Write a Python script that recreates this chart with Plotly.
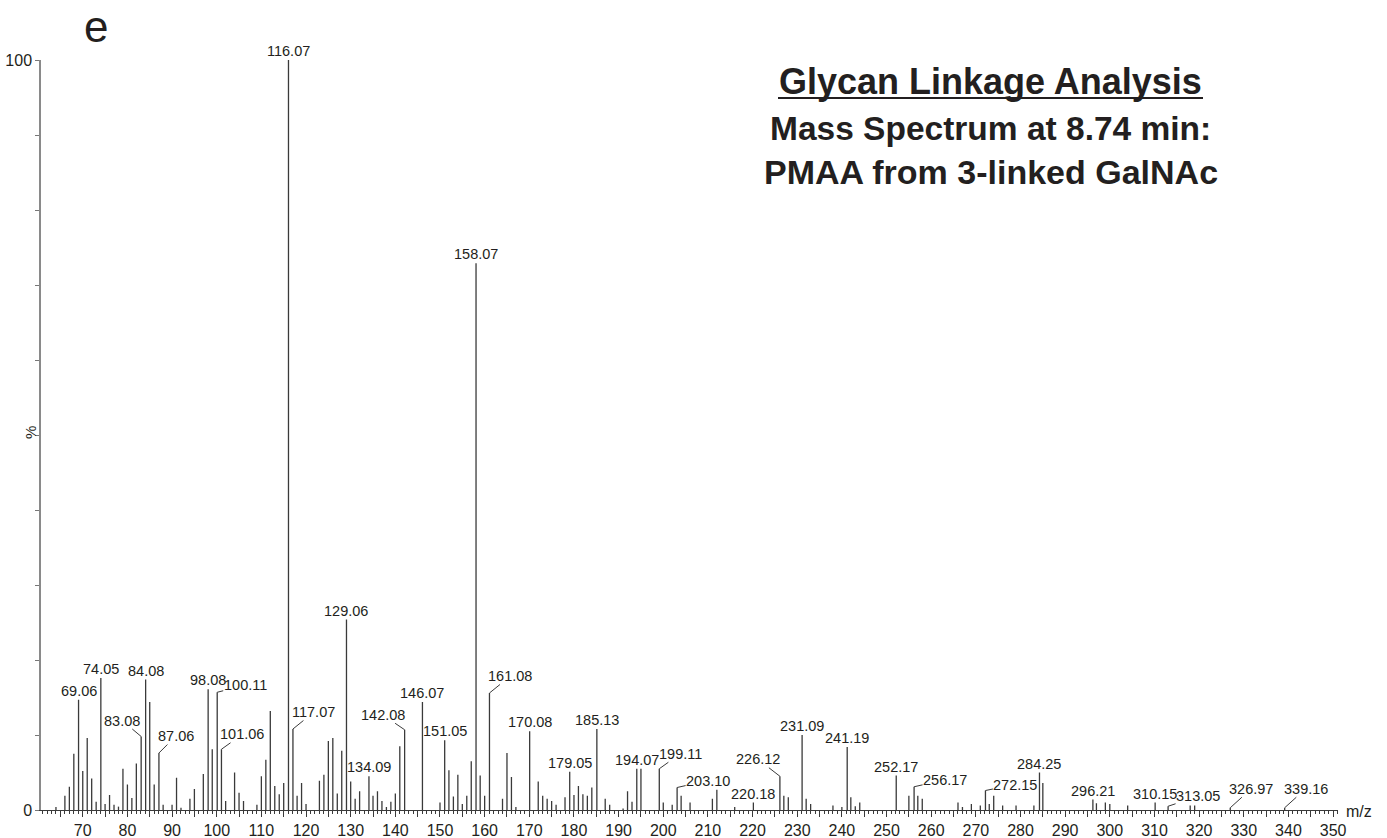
import plotly.graph_objects as go

# Ion m/z values and relative abundances (%)
mz = [64, 66, 67, 68, 69.06, 70, 71, 72, 73, 74.05, 75, 76, 77, 78, 79, 80, 81, 82,
      83.08, 84.08, 85, 86, 87.06, 88, 90, 91, 92, 94, 95, 97, 98.08, 99, 100.11,
      101.06, 102, 104, 105, 106, 109, 110, 111, 112, 113, 114, 115, 116.07, 117.07,
      118, 119, 120, 123, 124, 125, 126, 127, 128, 129.06, 130, 131, 132, 134.09,
      135, 136, 137, 138, 139, 140, 141, 142.08, 146.07, 150, 151.05, 152, 153, 154,
      155, 156, 157, 158.07, 159, 160, 161.08, 164, 165, 166, 167, 170.08, 172, 173,
      174, 175, 176, 178, 179.05, 180, 181, 182, 183, 184, 185.13, 187, 188, 191,
      192, 193, 194.07, 195, 199.11, 200, 202, 203.10, 204, 206, 211, 212, 216,
      220.18, 226.12, 227, 228, 231.09, 232, 233, 238, 240, 241.19, 242, 243, 244,
      252.17, 255, 256.17, 257, 258, 266, 267, 269, 271, 272.15, 273, 274, 276, 279,
      283, 284.25, 285, 296.21, 297, 299, 300, 304, 310.15, 313.05, 318, 319,
      326.97, 339.16]
abundance = [0.4, 1.9, 3.1, 7.5, 14.7, 5.2, 9.6, 4.2, 1.1, 17.6, 0.8, 2.0, 0.7, 0.45,
             5.5, 3.4, 1.6, 6.2, 9.8, 17.4, 14.4, 3.4, 7.6, 0.7, 0.7, 4.3, 0.3, 1.5,
             2.8, 4.8, 16.1, 8.1, 15.7, 8.1, 1.2, 5.0, 2.3, 1.2, 0.7, 4.5, 6.7, 13.2,
             3.2, 2.1, 3.6, 100.0, 10.8, 1.9, 3.6, 0.8, 3.9, 4.7, 9.2, 9.6, 2.2, 7.9,
             25.4, 3.8, 1.5, 2.5, 4.5, 1.9, 2.5, 1.2, 0.4, 1.1, 2.2, 8.5, 10.7, 14.4,
             1.0, 9.3, 5.3, 1.8, 4.7, 0.8, 1.9, 6.5, 72.9, 4.6, 1.9, 15.6, 1.5, 7.6,
             4.4, 0.4, 10.5, 3.8, 1.9, 1.5, 1.2, 0.7, 1.7, 5.1, 2.0, 3.2, 2.1, 1.9,
             3.0, 10.8, 1.5, 0.7, 0.2, 2.5, 1.1, 5.5, 5.5, 5.5, 1.0, 0.7, 3.0, 1.9,
             1.0, 1.5, 2.7, 0.4, 1.0, 4.5, 1.9, 1.7, 10.0, 1.5, 0.8, 0.6, 0.4, 8.4,
             1.7, 0.5, 1.0, 4.6, 1.9, 3.1, 1.9, 1.5, 1.0, 0.4, 0.8, 0.6, 2.6, 0.8,
             1.9, 0.6, 0.6, 0.6, 5.0, 3.6, 1.4, 0.9, 1.0, 0.8, 0.6, 1.0, 0.5, 0.6,
             0.6, 0.3, 0.3]

# Peaks annotated with their m/z
labelled_mz = [69.06, 74.05, 83.08, 84.08, 87.06, 98.08, 100.11, 101.06, 116.07,
               117.07, 129.06, 134.09, 142.08, 146.07, 151.05, 158.07, 161.08,
               170.08, 179.05, 185.13, 194.07, 199.11, 203.10, 220.18, 226.12,
               231.09, 241.19, 252.17, 256.17, 272.15, 284.25, 296.21, 310.15,
               313.05, 326.97, 339.16]

# Axis tick positions
x_major_ticks = list(range(65, 351, 5))
y_ticks = list(range(0, 101, 10))

title_lines = ["Glycan Linkage Analysis", "Mass Spectrum at 8.74 min:",
               "PMAA from 3-linked GalNAc"]

# ---- layout geometry (pixels) ----
W, H = 1387, 838
L, R, T, B = 41, 49, 60, 28
FONT = "Arial, Liberation Sans, sans-serif"
INK = "#231f20"


def paper_x(px):
    return (px - L) / (W - L - R)


def paper_y(py):
    return (H - B - py) / (H - T - B)


# label offsets (pixels) for annotations that use a leader line
leader_offset = {
    83.08: (-19, -16), 87.06: (17, -17), 100.11: (28, -7), 101.06: (21, -15),
    117.07: (21, -17), 142.08: (-22, -15), 161.08: (21, -17), 199.11: (21, -15),
    203.10: (31, -7), 226.12: (-22, -17), 256.17: (31, -7), 272.15: (30, -6),
    313.05: (30, -10), 326.97: (21, -19), 339.16: (21, -19),
}

# stick spectrum
xs, ys = [], []
for m, a in zip(mz, abundance):
    xs += [m, m, None]
    ys += [0, a, None]

fig = go.Figure()
fig.add_trace(go.Scatter(
    x=xs, y=ys, mode="lines",
    line=dict(color="#3a3a3a", width=1.3),
    hoverinfo="skip", showlegend=False, cliponaxis=False,
))

peak_height = dict(zip(mz, abundance))
label_font = dict(family=FONT, size=14.5, color=INK)
annotations = []
for m in labelled_mz:
    h = peak_height[m]
    text = f"{m:.2f}"
    if m in leader_offset:
        ax, ay = leader_offset[m]
        annotations.append(dict(
            x=m, y=h, xref="x", yref="y", text=text, showarrow=True,
            arrowhead=0, arrowwidth=1, arrowcolor="#3a3a3a", standoff=0,
            ax=ax, ay=ay, font=label_font, borderpad=0,
        ))
    else:
        annotations.append(dict(
            x=m, y=h, xref="x", yref="y", text=text, showarrow=False,
            yanchor="bottom", xanchor="center", yshift=0,
            font=label_font, borderpad=0,
        ))

# panel letter
annotations.append(dict(
    x=paper_x(96), y=paper_y(0.5), xref="paper", yref="paper", text="e",
    showarrow=False, xanchor="center", yanchor="top", borderpad=0,
    font=dict(family=FONT, size=44, color=INK),
))

# heading
heading_y = [81, 128, 172]
heading_size = [36, 33.5, 34]
for line, yy, fs in zip(title_lines, heading_y, heading_size):
    annotations.append(dict(
        x=paper_x(991), y=paper_y(yy), xref="paper", yref="paper",
        text=f"<b>{line}</b>", showarrow=False, xanchor="center",
        yanchor="middle", font=dict(family=FONT, size=fs, color=INK),
    ))

# axis captions
annotations.append(dict(
    x=paper_x(31), y=paper_y(433), xref="paper", yref="paper", text="%",
    showarrow=False, textangle=-90, xanchor="center", yanchor="middle",
    font=dict(family=FONT, size=15, color=INK),
))
annotations.append(dict(
    x=paper_x(1344), y=paper_y(811), xref="paper", yref="paper", text="m/z",
    showarrow=False, xanchor="left", yanchor="middle",
    font=dict(family=FONT, size=16, color=INK),
))

shapes = [dict(
    type="line", xref="paper", yref="paper",
    x0=paper_x(778), x1=paper_x(1203), y0=paper_y(98), y1=paper_y(98),
    line=dict(color=INK, width=2),
)]

fig.update_layout(
    width=W, height=H, autosize=False,
    margin=dict(l=L, r=R, t=T, b=B, pad=0),
    paper_bgcolor="white", plot_bgcolor="white",
    annotations=annotations, shapes=shapes,
    xaxis=dict(
        range=[60.65, 351.1], showgrid=False, zeroline=False, automargin=False,
        showline=True, linecolor="#3a3a3a", linewidth=1.2,
        ticks="outside", ticklen=6, tickwidth=1, tickcolor="#3a3a3a",
        tickvals=x_major_ticks,
        ticktext=[str(v) if v % 10 == 0 else "" for v in x_major_ticks],
        tickfont=dict(family=FONT, size=16, color=INK),
        minor=dict(dtick=1, tick0=0, ticks="outside", ticklen=3,
                   tickcolor="#3a3a3a", tickwidth=1),
    ),
    yaxis=dict(
        range=[0, 100], showgrid=False, zeroline=False, automargin=False,
        showline=True, linecolor="#8a8a8a", linewidth=1.5,
        ticks="outside", ticklen=4, tickwidth=1, tickcolor="#777777",
        tickvals=y_ticks,
        ticktext=[str(v) if v in (0, 100) else "" for v in y_ticks],
        tickfont=dict(family=FONT, size=16, color=INK),
    ),
)

fig.write_html("out.html")
